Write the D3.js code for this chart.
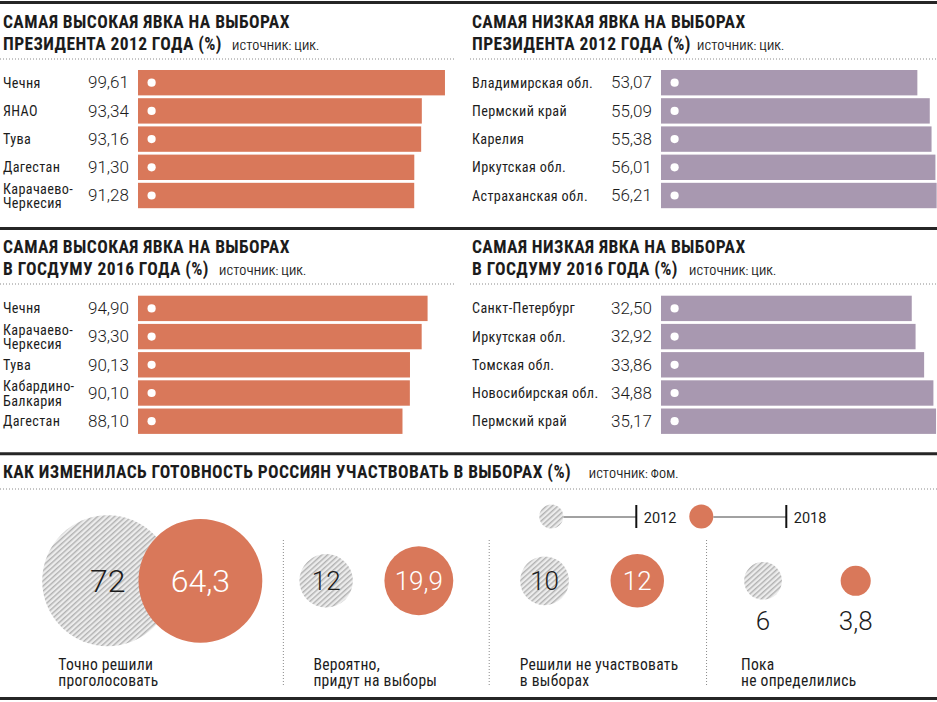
<!DOCTYPE html>
<html><head><meta charset="utf-8">
<script src="https://cdn.jsdelivr.net/npm/d3@7"></script>
<style>
html,body{margin:0;padding:0;background:#fff;}
svg{display:block;}
</style></head>
<body>
<svg id="chart" width="937" height="702"></svg>
<script>
// ---------- DATA ----------
const presHighLabels = ["Чечня", "ЯНАО", "Тува", "Дагестан", "Карачаево-\nЧеркесия"];
const presHighValues = [99.61, 93.34, 93.16, 91.30, 91.28];

const presLowLabels = ["Владимирская обл.", "Пермский край", "Карелия", "Иркутская обл.", "Астраханская обл."];
const presLowValues = [53.07, 55.09, 55.38, 56.01, 56.21];

const dumaHighLabels = ["Чечня", "Карачаево-\nЧеркесия", "Тува", "Кабардино-\nБалкария", "Дагестан"];
const dumaHighValues = [94.90, 93.30, 90.13, 90.10, 88.10];

const dumaLowLabels = ["Санкт-Петербург", "Иркутская обл.", "Томская обл.", "Новосибирская обл.", "Пермский край"];
const dumaLowValues = [32.50, 32.92, 33.86, 34.88, 35.17];

const readinessCategories = ["Точно решили\nпроголосовать", "Вероятно,\nпридут на выборы", "Решили не участвовать\nв выборах", "Пока\nне определились"];
const readiness2012 = [72, 12, 10, 6];
const readiness2018 = [64.3, 19.9, 12, 3.8];
const legendYears = ["2012", "2018"];

// ---------- STYLE ----------
const ORANGE = "#D9785A", PURPLE = "#A898B0", INK = "#1c1c1c";
const COND = "'Liberation Sans Narrow','Roboto Condensed','DejaVu Sans Condensed','Arial Narrow',sans-serif";
const LIGHT = "Roboto,'Open Sans','Liberation Sans',sans-serif";

const svg = d3.select("#chart");
const W = 937;

// hatch pattern
const defs = svg.append("defs");
const pat = defs.append("pattern").attr("id", "hatch")
  .attr("patternUnits", "userSpaceOnUse").attr("width", 3.8).attr("height", 3.8)
  .attr("patternTransform", "rotate(48)");
pat.append("rect").attr("width", 3.8).attr("height", 3.8).attr("fill", "#ececec");
pat.append("line").attr("x1", 0.8).attr("y1", 0).attr("x2", 0.8).attr("y2", 3.8)
  .attr("stroke", "#8f8f8f").attr("stroke-width", 0.9);

// thick rules
[2.5, 228.5, 453.8, 698.5].forEach(y => {
  svg.append("line").attr("x1", 0).attr("x2", W).attr("y1", y).attr("y2", y)
    .attr("stroke", "#262626").attr("stroke-width", 3);
});

function dotted(x1, x2, y) {
  svg.append("line").attr("x1", x1).attr("x2", x2).attr("y1", y).attr("y2", y)
    .attr("stroke", "#8a8a8a").attr("stroke-width", 1).attr("stroke-dasharray", "1,2");
}

function titleText(x, y, s) {
  return svg.append("text").attr("x", x).attr("y", y).text(s)
    .attr("font-family", COND).attr("font-weight", 700).attr("font-size", 17.5)
    .attr("letter-spacing", 0.4).attr("fill", INK);
}
function sourceText(x, y, s) {
  return svg.append("text").attr("x", x).attr("y", y).text(s)
    .attr("font-family", COND).attr("font-size", 11.8).attr("letter-spacing", 0.15).attr("fill", "#222");
}

function title(x, y1, l1, l2, src, srcX) {
  titleText(x, y1, l1);
  titleText(x, y1 + 21.2, l2);
  sourceText(srcX, y1 + 21.2, src);
}

function fmt2(v) { return v.toFixed(2).replace(".", ","); }

function barPanel(cfg) {
  title(cfg.tx, cfg.ty, cfg.t1, cfg.t2, cfg.src, cfg.srcX);
  dotted(cfg.dx1, cfg.dx2, cfg.ty + 30.7);
  const x = d3.scaleLinear().domain(cfg.domain).range(cfg.range);
  const y = d3.scaleBand().domain(cfg.labels).range([cfg.top, cfg.top + 138.2]).paddingInner(0.1).paddingOuter(0);
  const g = svg.append("g");
  const rows = g.selectAll("g.row").data(cfg.labels.map((l, i) => ({ l, v: cfg.values[i] })))
    .enter().append("g").attr("class", "row");
  rows.append("rect").attr("x", cfg.barStart).attr("y", d => y(d.l))
    .attr("width", d => x(d.v) - cfg.barStart).attr("height", y.bandwidth()).attr("fill", cfg.color);
  rows.append("circle").attr("cx", cfg.barStart + 13.6).attr("cy", d => y(d.l) + y.bandwidth() / 2)
    .attr("r", 4.1).attr("fill", "#fff");
  rows.append("text").attr("x", cfg.valueX).attr("y", d => y(d.l) + y.bandwidth() / 2 + 5.8)
    .text(d => fmt2(d.v)).attr("font-family", LIGHT).attr("font-weight", 300).attr("font-size", 17).attr("fill", INK);
  rows.each(function (d) {
    const parts = d.l.split("\n");
    const cy = y(d.l) + y.bandwidth() / 2;
    const t = d3.select(this).append("text").attr("font-family", COND).attr("font-size", 14.2)
      .attr("letter-spacing", 0.35).attr("fill", INK);
    if (parts.length === 1) {
      t.append("tspan").attr("x", cfg.labelX).attr("y", cy + 5).text(parts[0]);
    } else {
      t.append("tspan").attr("x", cfg.labelX).attr("y", cy - 1.6).text(parts[0]);
      t.append("tspan").attr("x", cfg.labelX).attr("y", cy + 12.6).text(parts[1]);
    }
  });
}

barPanel({ labels: presHighLabels, values: presHighValues, color: ORANGE,
  t1: "САМАЯ ВЫСОКАЯ ЯВКА НА ВЫБОРАХ", t2: "ПРЕЗИДЕНТА 2012 ГОДА (%)", src: "ИСТОЧНИК: ЦИК.",
  tx: 3, ty: 28.3, srcX: 232, dx1: 0, dx2: 455,
  labelX: 3, valueX: 88, barStart: 138, domain: [0, 100], range: [77.4, 446.4], top: 70 });

barPanel({ labels: presLowLabels, values: presLowValues, color: PURPLE,
  t1: "САМАЯ НИЗКАЯ ЯВКА НА ВЫБОРАХ", t2: "ПРЕЗИДЕНТА 2012 ГОДА (%)", src: "ИСТОЧНИК: ЦИК.",
  tx: 472, ty: 28.3, srcX: 697, dx1: 470, dx2: 937,
  labelX: 472, valueX: 611, barStart: 661, domain: [50, 57], range: [898.5, 941.5], top: 70 });

barPanel({ labels: dumaHighLabels, values: dumaHighValues, color: ORANGE,
  t1: "САМАЯ ВЫСОКАЯ ЯВКА НА ВЫБОРАХ", t2: "В ГОСДУМУ 2016 ГОДА (%)", src: "ИСТОЧНИК: ЦИК.",
  tx: 3, ty: 253.3, srcX: 219, dx1: 0, dx2: 455,
  labelX: 3, valueX: 88, barStart: 138, domain: [0, 100], range: [77.4, 446.4], top: 295.7 });

barPanel({ labels: dumaLowLabels, values: dumaLowValues, color: PURPLE,
  t1: "САМАЯ НИЗКАЯ ЯВКА НА ВЫБОРАХ", t2: "В ГОСДУМУ 2016 ГОДА (%)", src: "ИСТОЧНИК: ЦИК.",
  tx: 472, ty: 253.3, srcX: 689, dx1: 470, dx2: 937,
  labelX: 472, valueX: 611, barStart: 661, domain: [30, 36], range: [889, 943.6], top: 295.7 });

// ---------- bottom section ----------
titleText(3, 478.3, "КАК ИЗМЕНИЛАСЬ ГОТОВНОСТЬ РОССИЯН УЧАСТВОВАТЬ В ВЫБОРАХ (%)");
sourceText(588.7, 478.3, "ИСТОЧНИК: ФОМ.");
dotted(0, W, 489);

const r = d3.scaleSqrt().domain([0, 72]).range([0, 65.5]);
const gx = d3.scalePoint().domain(readinessCategories).range([107.7, 763]);
const pairGap = 92.7;
const CY = 580.8;
const labelShift = [-49.4, -12.7, -24.8, -22]; // label x offsets from group origin

const data = readinessCategories.map((c, i) => ({ c, i, a: readiness2012[i], b: readiness2018[i] }));

function fmt1(v) { return String(v).replace(".", ","); }

// separators
data.slice(1).forEach((d, k) => {
  const prev = data[k];
  const left = gx(prev.c) + pairGap + r(prev.b);
  const right = gx(d.c) - r(d.a);
  const sx = (left + right) / 2 + 2.5;
  svg.append("line").attr("x1", sx).attr("x2", sx).attr("y1", 540).attr("y2", 687)
    .attr("stroke", "#8a8a8a").attr("stroke-width", 1).attr("stroke-dasharray", "1,2");
});

const grp = svg.selectAll("g.grp").data(data).enter().append("g").attr("class", "grp");
grp.append("circle").attr("cx", d => gx(d.c)).attr("cy", CY).attr("r", d => r(d.a)).attr("fill", "url(#hatch)");
grp.append("circle").attr("cx", d => gx(d.c) + pairGap).attr("cy", CY).attr("r", d => r(d.b)).attr("fill", ORANGE);

function valLabel(sel, xf, vf, fill) {
  sel.append("text")
    .attr("x", xf)
    .attr("y", d => {
      const rr = r(vf(d));
      const fs = rr > 50 ? 32 : 26;
      return rr < 21 ? 630 : CY + fs * 0.355;
    })
    .attr("text-anchor", "middle")
    .attr("font-family", LIGHT).attr("font-weight", 300)
    .attr("font-size", d => r(vf(d)) > 50 ? 32 : 26)
    .attr("fill", d => (r(vf(d)) < 21 ? INK : fill))
    .text(d => fmt1(vf(d)));
}
valLabel(grp, d => gx(d.c), d => d.a, INK);
valLabel(grp, d => gx(d.c) + pairGap, d => d.b, "#fff");

grp.each(function (d) {
  const parts = d.c.split("\n");
  const t = d3.select(this).append("text").attr("font-family", COND).attr("font-size", 15.6)
    .attr("letter-spacing", 0.25).attr("fill", INK);
  parts.forEach((p, k) => {
    t.append("tspan").attr("x", gx(d.c) + labelShift[d.i]).attr("y", 669.5 + k * 16.5).text(p);
  });
});

// legend
const lg = svg.append("g");
const legendX = d3.scalePoint().domain(legendYears).range([551.3, 701.3]);
legendYears.forEach((yr, i) => {
  const cx = legendX(yr);
  lg.append("line").attr("x1", cx + 12).attr("x2", cx + 85).attr("y1", 517).attr("y2", 517)
    .attr("stroke", "#444").attr("stroke-width", 1);
  lg.append("line").attr("x1", cx + 85).attr("x2", cx + 85).attr("y1", 505).attr("y2", 528)
    .attr("stroke", "#111").attr("stroke-width", 2);
  lg.append("circle").attr("cx", cx).attr("cy", 516.5).attr("r", 12)
    .attr("fill", i === 0 ? "url(#hatch)" : ORANGE);
  lg.append("text").attr("x", cx + 92.5).attr("y", 523.3).text(yr)
    .attr("font-family", "Roboto,'Liberation Sans',sans-serif").attr("font-size", 14.5).attr("fill", INK);
});
</script>
</body></html>
